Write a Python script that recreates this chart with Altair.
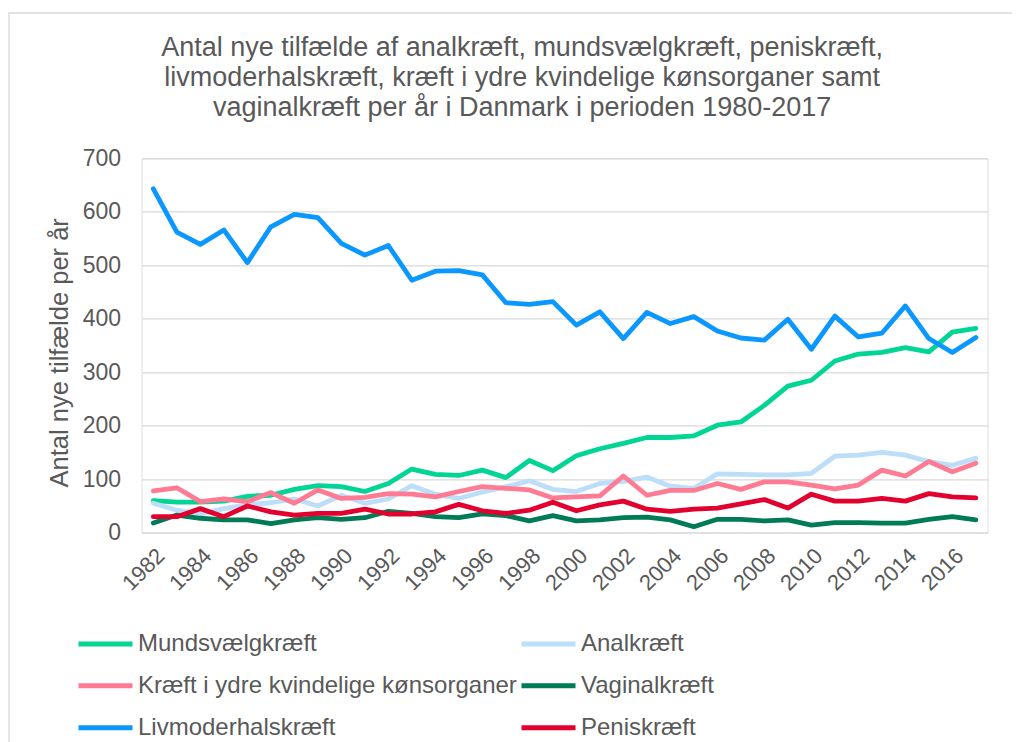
import altair as alt
import pandas as pd

years = [1982, 1983, 1984, 1985, 1986, 1987, 1988, 1989, 1990, 1991, 1992, 1993,
         1994, 1995, 1996, 1997, 1998, 1999, 2000, 2001, 2002, 2003, 2004, 2005,
         2006, 2007, 2008, 2009, 2010, 2011, 2012, 2013, 2014, 2015, 2016, 2017]
label_years = [1982, 1984, 1986, 1988, 1990, 1992, 1994, 1996, 1998, 2000,
               2002, 2004, 2006, 2008, 2010, 2012, 2014, 2016]
y_ticks = [0, 100, 200, 300, 400, 500, 600, 700]

# drawing order (later drawn on top)
series_names = ["Mundsvælgkræft", "Analkræft", "Kræft i ydre kvindelige kønsorganer",
                "Vaginalkræft", "Livmoderhalskræft", "Peniskræft"]
series_colors = ["#00D596", "#BCDEF8", "#FF7B94", "#007B55", "#0A97FF", "#E2002F"]

mundsvaelg = [60, 57, 57, 59, 68, 70, 81, 88, 86, 77, 92, 119, 109, 107, 117, 103, 135, 116,
              144, 157, 167, 178, 178, 181, 201, 207, 238, 274, 285, 321, 334, 337, 346, 338, 375, 382]
anal = [55, 42, 35, 45, 52, 56, 63, 50, 70, 55, 63, 88, 72, 64, 76, 86, 97, 81,
        77, 92, 96, 104, 87, 83, 110, 109, 108, 108, 111, 143, 145, 150, 145, 133, 126, 139]
ydre = [78, 84, 58, 63, 58, 75, 55, 80, 64, 66, 73, 72, 67, 77, 86, 83, 80, 65,
        67, 69, 106, 70, 79, 79, 92, 81, 95, 95, 89, 82, 89, 117, 106, 133, 114, 130]
vaginal = [18, 33, 27, 24, 24, 17, 24, 28, 25, 28, 40, 36, 30, 28, 35, 32, 22, 32,
           22, 24, 28, 29, 24, 11, 25, 25, 22, 24, 14, 19, 19, 18, 18, 25, 30, 24]
livmoder = [643, 562, 539, 566, 505, 572, 595, 589, 541, 519, 537, 472, 489, 490, 482, 430, 427, 432,
            388, 413, 363, 412, 391, 404, 377, 364, 360, 399, 343, 405, 366, 373, 424, 363, 337, 365]
penis = [30, 30, 45, 30, 50, 39, 33, 36, 36, 44, 35, 35, 39, 53, 41, 36, 42, 57,
         41, 52, 59, 44, 40, 44, 46, 54, 62, 46, 72, 59, 59, 64, 59, 73, 67, 65]

# legend order (entries are filled column by column: 3 rows x 2 columns)
legend_order = ["Mundsvælgkræft", "Kræft i ydre kvindelige kønsorganer", "Livmoderhalskræft",
                "Analkræft", "Vaginalkræft", "Peniskræft"]
color_of = dict(zip(series_names, series_colors))
legend_colors = [color_of[n] for n in legend_order]

all_values = [mundsvaelg, anal, ydre, vaginal, livmoder, penis]
rows = []
for name, vals in zip(series_names, all_values):
    for yr, v in zip(years, vals):
        rows.append({"year": yr, "series": name, "value": v})
df = pd.DataFrame(rows)

FONT = "Liberation Sans, Arial, sans-serif"
TXT = "#595959"
PLOT_W = 846
PLOT_H = 374.4
PAD_L, PAD_T = 133.6, 150.3
PAD_R = 1004 - PAD_L - PLOT_W
PAD_B = 734 - PAD_T - PLOT_H

color = alt.Color(
    "series:N",
    scale=alt.Scale(domain=legend_order, range=legend_colors),
    legend=alt.Legend(
        title=None, orient="none", legendX=-65.6, legendY=456, columns=2,
        symbolType="stroke", symbolSize=2916, symbolStrokeWidth=5,
        labelFontSize=24, labelFont=FONT, labelColor=TXT, labelOffset=3,
        rowPadding=0, columnPadding=-6, labelLimit=600,
    ),
)

x = alt.X(
    "year:O",
    scale=alt.Scale(padding=0.5),
    axis=alt.Axis(values=label_years, labelAngle=-45, labelFontSize=22, labelFont=FONT,
                  labelColor=TXT, labelPadding=12, ticks=False, domain=False, grid=False,
                  title=None, labelOverlap=False),
)
y = alt.Y(
    "value:Q",
    scale=alt.Scale(domain=[0, 700], nice=False),
    axis=alt.Axis(values=y_ticks, labelFontSize=23, labelFont=FONT, labelColor=TXT,
                  labelPadding=21, ticks=False, domain=False, grid=True,
                  gridColor="#D9D9D9", gridWidth=1.3,
                  title="Antal nye tilfælde per år", titleFont=FONT, titleFontSize=25.5,
                  titleFontWeight="normal", titleColor=TXT, titleX=-82.6, titleY=194,
                  titleAngle=-90, titleBaseline="middle", titleAlign="center"),
)

frame = alt.Chart(alt.Data(values=[{"f": 1}])).mark_rect(
    filled=False, stroke="#D9D9D9", strokeWidth=1.3
).encode(
    x=alt.value(9 - 141.6), x2=alt.value(1060 - 141.6),
    y=alt.value(13 - 158.3), y2=alt.value(800 - 158.3),
)

base = alt.Chart(df).mark_line(strokeWidth=4.8, strokeJoin="round", strokeCap="round").encode(
    x=x, y=y, color=color
)
layers = [frame] + [base.transform_filter(alt.datum.series == name) for name in series_names]

chart = alt.layer(*layers).properties(
    width=PLOT_W,
    height=PLOT_H,
    title=alt.Title(
        text=["Antal nye tilfælde af analkræft, mundsvælgkræft, peniskræft,",
              "livmoderhalskræft, kræft i ydre kvindelige kønsorganer samt",
              "vaginalkræft per år i Danmark i perioden 1980-2017"],
        font=FONT, fontSize=27, fontWeight="normal", color=TXT, lineHeight=30,
        anchor="middle", frame="group", dx=-42.5, offset=-109.5,
    ),
    autosize=alt.AutoSizeParams(type="none"),
    padding={"left": PAD_L, "top": PAD_T, "right": PAD_R, "bottom": PAD_B},
).configure_view(stroke=None).configure(background="white")

chart.save("out.html", embed_options={"renderer": "svg", "actions": False})
